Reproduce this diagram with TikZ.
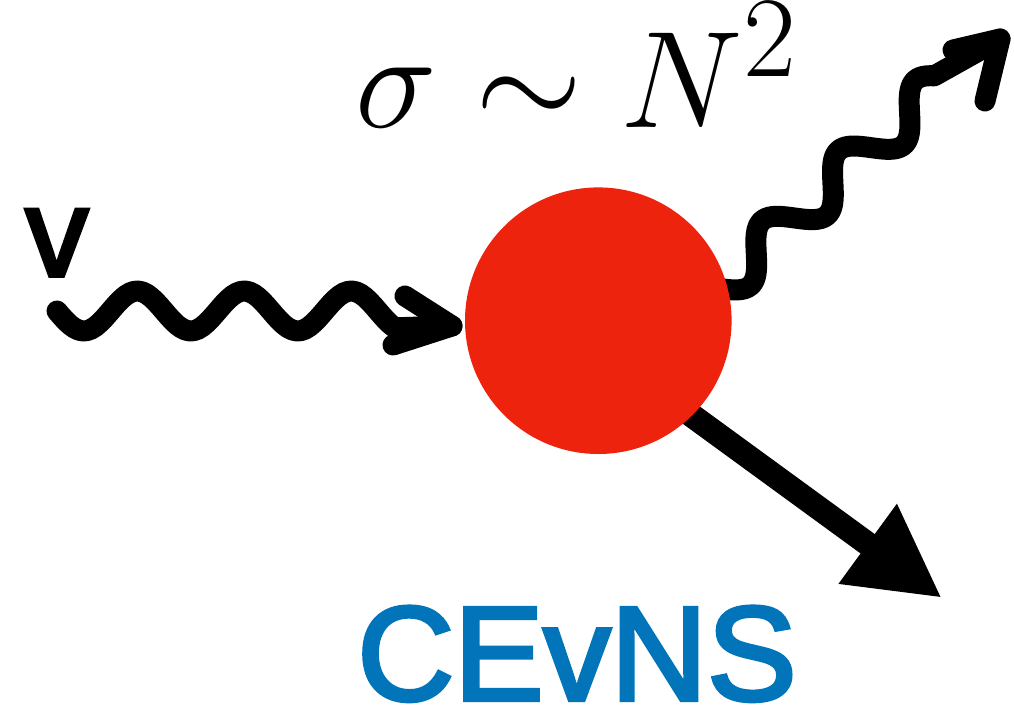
\documentclass[tikz,border=0pt]{standalone}
\usepackage{graphicx}
\usepackage{fontspec}
\newfontfamily\labelfont{Liberation Sans}[FakeBold=3]
\usetikzlibrary{arrows.meta}
\definecolor{nucred}{RGB}{237,35,13}
\definecolor{cevnsblue}{RGB}{2,117,186}

\begin{document}
\begin{tikzpicture}[
  x=0.5pt, y=-0.5pt,
  wave/.style={line width=10.5pt, line cap=round, line join=round},
  recoil/.style={line width=12pt, -{Triangle[length=46pt, width=46pt]}},
  nuc/.style={circle, fill=nucred, minimum size=133.3pt, inner sep=0pt},
  lbl/.style={inner sep=0pt, anchor=base west}]
  \useasboundingbox (0,0) rectangle (1014,709);
  % incoming neutrino
  \coordinate (nu-tip) at (452,326);
  \draw[wave] plot[domain=57:395, samples=80] (\x, {311+20*sin(3.3645*(\x-57))}) -- (nu-tip);
  \draw[wave] (405,296) -- (nu-tip) -- (393,345);
  % outgoing neutrino
  \coordinate (out-tip) at (1000,39);
  \draw[wave] plot[domain=-25:277, samples=100]
    ({737.1+0.737*\x+13.52*cos(3.4615*\x)}, {270.7-0.676*\x+14.74*cos(3.4615*\x)}) -- (out-tip);
  \draw[wave] (953,50) -- (out-tip) -- (985,101);
  % nuclear recoil
  \coordinate (recoil-start) at (650,385);
  \coordinate (recoil-tip) at (942,598);
  \draw[recoil] (recoil-start) -- (recoil-tip);
  \node[nuc] (nucleus) at (598.3,320.7) {};
  % labels
  \node[lbl] (xsec) at (355,127) {\scalebox{2.77}{\fontsize{24.88}{30}\selectfont$\sigma\sim N^2$}};
  \node[lbl] (nu) at (25,276) {\labelfont\fontsize{63}{70}\selectfont v};
  \node[lbl, text=cevnsblue] (cevns) at (357,700) {\labelfont\fontsize{67}{75}\selectfont CEvNS};
\end{tikzpicture}
\end{document}
